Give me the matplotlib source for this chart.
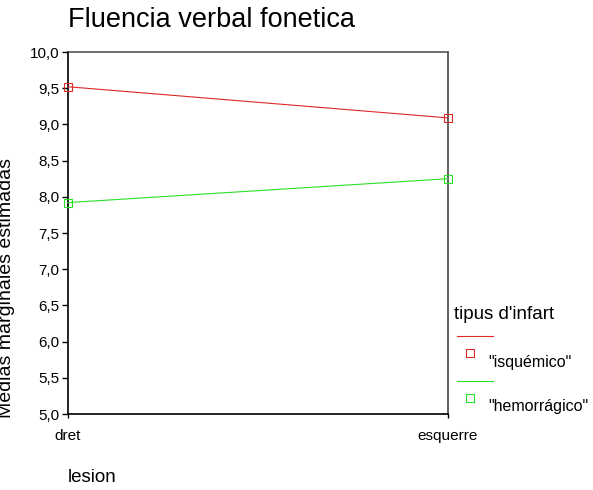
import matplotlib.pyplot as plt
from matplotlib.lines import Line2D
from matplotlib.ticker import FuncFormatter, MultipleLocator

plt.rcParams['font.family'] = ['Liberation Sans', 'DejaVu Sans']

lesion = ['dret', 'esquerre']
isquemico = [9.52, 9.09]
hemorragico = [7.92, 8.25]
series_names = ['"isquémico"', '"hemorrágico"']
colors = ['#e02828', '#28e028']


def main():
    fig = plt.figure(figsize=(5.93, 4.90), dpi=100)
    ax = fig.add_axes([68 / 593, 1 - 414 / 490, 380 / 593, 362 / 490])

    x = list(range(len(lesion)))
    for vals, c in zip([isquemico, hemorragico], colors):
        ax.plot(x, vals, color=c, lw=0.8, marker='s', ms=5.5,
                markerfacecolor='none', markeredgecolor=c, mew=0.8,
                clip_on=False, zorder=5)

    ax.set_xlim(0, 1)
    ax.set_ylim(5, 10)
    ax.set_xticks(x)
    ax.set_xticklabels(lesion, fontsize=11)
    ax.yaxis.set_major_locator(MultipleLocator(0.5))
    ax.yaxis.set_major_formatter(
        FuncFormatter(lambda v, p: ('%.1f' % v).replace('.', ',')))
    ax.tick_params(axis='y', labelsize=11, length=4, width=1, pad=2)
    ax.tick_params(axis='x', length=3, width=1, pad=8)
    ax.spines['left'].set_color('black')
    ax.spines['bottom'].set_color('black')
    ax.spines['top'].set_color('#555555')
    ax.spines['right'].set_color('#444444')
    for s in ax.spines.values():
        s.set_linewidth(1.2)
        s.set_zorder(1)

    fig.text(68 / 593, 1 - 20 / 490, 'Fluencia verbal fonetica',
             fontsize=19.5, va='center', ha='left')
    fig.text(68 / 593, 1 - 477 / 490, 'lesion', fontsize=13.5,
             va='center', ha='left')
    fig.text(7 / 593, 1 - 288 / 490, 'Medias marginales estimadas',
             fontsize=14, rotation=90, va='center', ha='center')

    # legend
    fig.text(454 / 593, 1 - 314 / 490, "tipus d'infart", fontsize=13.5,
             va='center', ha='left')
    for i, (name, c) in enumerate(zip(series_names, colors)):
        y0 = 336 + i * 45
        fig.add_artist(Line2D([457 / 593, 493 / 593],
                              [1 - y0 / 490, 1 - y0 / 490],
                              color=c, lw=0.8))
        fig.add_artist(Line2D([470 / 593], [1 - (y0 + 17) / 490],
                              marker='s', ms=5.5, markerfacecolor='none',
                              markeredgecolor=c, mew=0.8, lw=0))
        fig.text(488 / 593, 1 - (y0 + 26) / 490, name, fontsize=11.5,
                 va='center', ha='left')

    fig.savefig('out.png', dpi=100)


if __name__ == "__main__":
    main()
